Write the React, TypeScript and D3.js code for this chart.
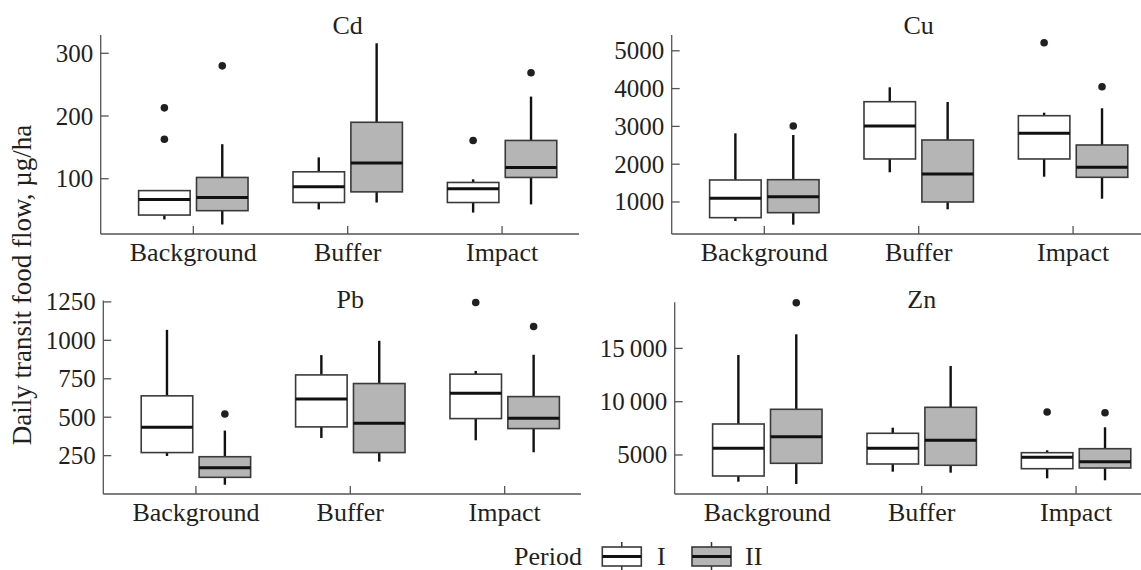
import * as d3 from "d3";

const sites = ["Background", "Buffer", "Impact"];
const periods = ["I", "II"];

// [lower whisker, Q1, median, Q3, upper whisker]
// order: Background I, Background II, Buffer I, Buffer II, Impact I, Impact II
const cdBoxes = [
  [35, 42, 67, 81, 81],
  [27, 49, 70, 102, 155],
  [51, 62, 87, 111, 134],
  [62, 79, 125, 190, 316],
  [46, 62, 84, 94, 99],
  [59, 102, 118, 161, 231],
];
const cuBoxes = [
  [497, 585, 1098, 1582, 2817],
  [400, 717, 1140, 1590, 2772],
  [1786, 2138, 3011, 3653, 4034],
  [807, 1000, 1741, 2640, 3645],
  [1669, 2138, 2817, 3283, 3362],
  [1087, 1653, 1918, 2508, 3479],
];
const pbBoxes = [
  [248, 270, 435, 639, 1068],
  [61, 109, 172, 243, 413],
  [365, 437, 619, 775, 904],
  [211, 270, 461, 719, 997],
  [350, 491, 656, 780, 801],
  [272, 426, 493, 634, 906],
];
const znBoxes = [
  [2495, 3030, 5628, 7908, 14381],
  [2280, 4221, 6717, 9287, 16323],
  [3433, 4156, 5628, 7036, 7561],
  [3340, 4034, 6379, 9475, 13349],
  [2814, 3715, 4784, 5216, 5441],
  [2627, 3780, 4371, 5591, 7598],
];

// [site, period, value]
const cdOutliers = [
  ["Background", "I", 163],
  ["Background", "I", 213],
  ["Background", "II", 280],
  ["Impact", "I", 161],
  ["Impact", "II", 269],
];
const cuOutliers = [
  ["Background", "II", 3011],
  ["Impact", "I", 5214],
  ["Impact", "II", 4050],
];
const pbOutliers = [
  ["Background", "II", 521],
  ["Impact", "I", 1246],
  ["Impact", "II", 1090],
];
const znOutliers = [
  ["Background", "II", 19287],
  ["Impact", "I", 9034],
  ["Impact", "II", 8968],
];

const cdTicks = [100, 200, 300];
const cuTicks = [1000, 2000, 3000, 4000, 5000];
const pbTicks = [250, 500, 750, 1000, 1250];
const znTicks = [5000, 10000, 15000];
const znTickLabels = ["5000", "10\u2009000", "15\u2009000"];

const cdDomain = [11.8, 329.2];
const cuDomain = [153, 5418];
const pbDomain = [0.6, 1259];
const znDomain = [1341, 19325];

const font = "'Liberation Serif', 'Times New Roman', serif";
const ink = "#231f20";
const fills: Record<string, string> = { I: "#ffffff", II: "#b5b5b5" };

const Panel = ({ title, boxes, outliers, ticks, tickLabels, domain, left, top, bottom, right, titleY }: any) => {
  const y = d3.scaleLinear().domain(domain).range([bottom, top]);
  const x = d3.scalePoint().domain(sites).range([left, left + 494]).padding(0.6);
  const step = x.step();
  const dodge = d3
    .scaleBand()
    .domain(periods)
    .range([-0.375 * step, 0.375 * step])
    .paddingInner(0.11)
    .paddingOuter(0.055);
  const bw = dodge.bandwidth();
  const labels = tickLabels || ticks.map((t: number) => String(t));

  return (
    <g>
      <text x={x("Buffer")} y={titleY} textAnchor="middle" fontSize={26} fontFamily={font} fill={ink}>
        {title}
      </text>
      {/* axes */}
      <line x1={left} x2={left} y1={top} y2={bottom} stroke="#555" strokeWidth={1.3} />
      <line x1={left} x2={right} y1={bottom} y2={bottom} stroke="#555" strokeWidth={1.3} />
      {ticks.map((t: number, i: number) => (
        <g key={t}>
          <line x1={left} x2={left + 8} y1={y(t)} y2={y(t)} stroke="#555" strokeWidth={1.3} />
          <text x={left - 7.5} y={y(t)} dy="0.34em" textAnchor="end" fontSize={25} fontFamily={font} fill={ink}>
            {labels[i]}
          </text>
        </g>
      ))}
      {sites.map((s) => (
        <g key={s}>
          <line x1={x(s)} x2={x(s)} y1={bottom} y2={bottom - 8} stroke="#555" strokeWidth={1.3} />
          <text x={x(s)} y={bottom + 27} textAnchor="middle" fontSize={26} fontFamily={font} fill={ink}>
            {s}
          </text>
        </g>
      ))}
      {/* boxes */}
      {sites.map((s, si) =>
        periods.map((p, pi) => {
          const [lo, q1, med, q3, hi] = boxes[si * 2 + pi];
          const cx = (x(s) as number) + (dodge(p) as number) + bw / 2;
          const x0 = cx - bw / 2;
          return (
            <g key={s + p}>
              <line x1={cx} x2={cx} y1={y(q3)} y2={y(hi)} stroke="#111" strokeWidth={2.4} />
              <line x1={cx} x2={cx} y1={y(q1)} y2={y(lo)} stroke="#111" strokeWidth={2.4} />
              <rect x={x0} y={y(q3)} width={bw} height={y(q1) - y(q3)} fill={fills[p]} stroke="#3a3a3a" strokeWidth={1.6} />
              <line x1={x0} x2={x0 + bw} y1={y(med)} y2={y(med)} stroke="#111" strokeWidth={3} />
            </g>
          );
        })
      )}
      {outliers.map(([s, p, v]: any, i: number) => (
        <circle
          key={i}
          cx={(x(s) as number) + (dodge(p) as number) + bw / 2}
          cy={y(v)}
          r={3.8}
          fill={ink}
        />
      ))}
    </g>
  );
};

const LegendKey = ({ x, yTop, fill }: any) => {
  const w = 39;
  const h = 19;
  return (
    <g>
      <line x1={x + w / 2} x2={x + w / 2} y1={yTop - 5} y2={yTop + h + 5} stroke="#333" strokeWidth={1.5} />
      <rect x={x} y={yTop} width={w} height={h} fill={fill} stroke="#3a3a3a" strokeWidth={1.6} />
      <line x1={x} x2={x + w} y1={yTop + h / 2} y2={yTop + h / 2} stroke="#111" strokeWidth={3} />
    </g>
  );
};

export default function App() {
  return (
    <svg
      width={1141}
      height={570}
      style={{ position: "absolute", left: 0, top: 0, background: "#fff" }}
    >
      <rect width={1141} height={570} fill="#fff" />
      <text
        transform="translate(31,285) rotate(-90)"
        textAnchor="middle"
        fontSize={27}
        fontFamily={font}
        fill={ink}
      >
        Daily transit food flow, µg/ha
      </text>
      <Panel title="Cd" boxes={cdBoxes} outliers={cdOutliers} ticks={cdTicks} domain={cdDomain}
        left={100.7} top={35} bottom={234} right={579} titleY={34} />
      <Panel title="Cu" boxes={cuBoxes} outliers={cuOutliers} ticks={cuTicks} domain={cuDomain}
        left={671.7} top={35} bottom={234} right={1141} titleY={34} />
      <Panel title="Pb" boxes={pbBoxes} outliers={pbOutliers} ticks={pbTicks} domain={pbDomain}
        left={103.3} top={300.5} bottom={494} right={581} titleY={308} />
      <Panel title="Zn" boxes={znBoxes} outliers={znOutliers} ticks={znTicks} tickLabels={znTickLabels}
        domain={znDomain} left={674.7} top={302.3} bottom={494} right={1141} titleY={308} />
      {/* legend */}
      <text x={514} y={565} fontSize={26} fontFamily={font} fill={ink}>Period</text>
      <LegendKey x={602.3} yTop={547} fill={fills.I} />
      <text x={657} y={565} fontSize={26} fontFamily={font} fill={ink}>{periods[0]}</text>
      <LegendKey x={692} yTop={547} fill={fills.II} />
      <text x={745} y={565} fontSize={26} fontFamily={font} fill={ink}>{periods[1]}</text>
    </svg>
  );
}
